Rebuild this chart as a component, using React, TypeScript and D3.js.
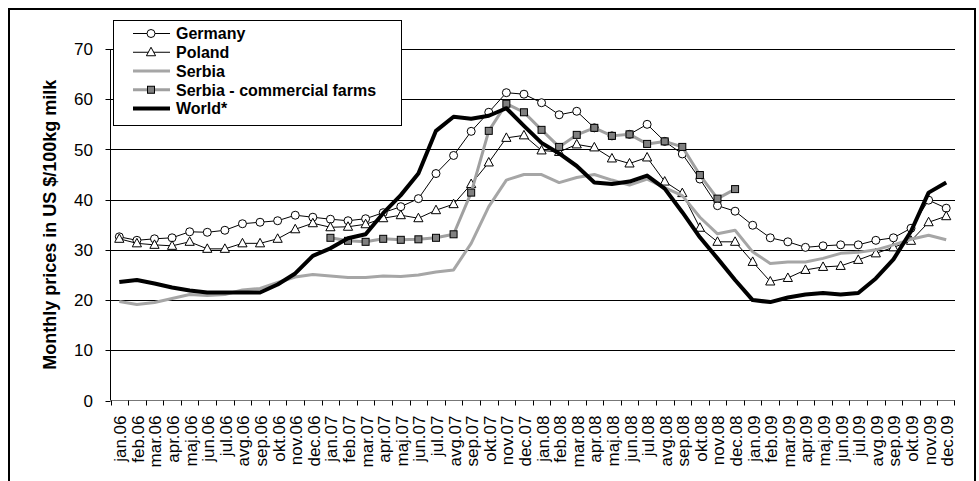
import * as d3 from "d3";

const MONTHS = ["jan", "feb", "mar", "apr", "maj", "jun", "jul", "avg", "sep", "okt", "nov", "dec"];
const YEARS = ["06", "07", "08", "09"];
const categories: string[] = YEARS.flatMap((y) => MONTHS.map((m) => `${m}.${y}`));

const germany = [
  32.6, 31.9, 32.2, 32.4, 33.6, 33.5, 33.9, 35.2, 35.5, 35.8, 36.9, 36.5,
  36.1, 35.8, 36.2, 37.4, 38.6, 40.2, 45.2, 48.8, 53.6, 57.4, 61.3, 61.0,
  59.3, 56.9, 57.6, 54.3, 52.7, 53.0, 55.0, 51.6, 49.1, 44.1, 38.8, 37.7,
  34.9, 32.4, 31.6, 30.5, 30.8, 31.0, 31.0, 31.9, 32.4, 34.3, 39.9, 38.3,
];
const poland = [
  32.2, 31.3, 31.0, 30.8, 31.6, 30.2, 30.2, 31.3, 31.3, 32.2, 34.1, 35.3,
  34.5, 34.6, 35.1, 36.3, 36.9, 36.3, 37.9, 39.1, 43.1, 47.4, 52.3, 52.8,
  49.8, 49.5, 51.0, 50.4, 48.2, 47.2, 48.4, 43.6, 41.3, 34.4, 31.6, 31.6,
  27.6, 23.7, 24.4, 26.0, 26.6, 26.8, 28.0, 29.3, 30.5, 31.8, 35.5, 36.7,
];
const serbia = [
  19.7, 19.1, 19.5, 20.3, 21.1, 20.9, 21.1, 22.0, 22.3, 23.5, 24.6, 25.1,
  24.8, 24.5, 24.5, 24.8, 24.7, 25.0, 25.6, 26.0, 31.3, 38.6, 43.9, 45.0,
  45.0, 43.4, 44.4, 45.0, 43.9, 42.9, 44.1, 42.4, 40.8, 36.5, 33.2, 33.9,
  29.6, 27.3, 27.6, 27.6, 28.3, 29.3, 29.5, 30.0, 31.0, 32.1, 32.9, 32.0,
];
const serbiaCommercial: (number | null)[] = [
  null, null, null, null, null, null, null, null, null, null, null, null,
  32.4, 31.8, 31.6, 32.2, 32.0, 32.1, 32.4, 33.1, 41.4, 53.7, 59.1, 57.4,
  53.9, 50.5, 52.9, 54.3, 52.7, 53.0, 51.1, 51.6, 50.5, 44.9, 40.2, 42.1,
  null, null, null, null, null, null, null, null, null, null, null, null,
];
const world = [
  23.6, 24.0, 23.3, 22.5, 21.9, 21.5, 21.5, 21.5, 21.5, 23.1, 25.3, 28.8,
  30.3, 32.3, 33.1, 37.3, 40.9, 45.2, 53.7, 56.5, 56.1, 56.7, 58.2, 54.7,
  51.3, 49.2, 46.7, 43.4, 43.1, 43.6, 44.8, 42.2, 37.5, 32.5, 28.3, 24.0,
  20.0, 19.6, 20.5, 21.1, 21.4, 21.1, 21.4, 24.3, 28.1, 33.7, 41.4, 43.4,
];
const yTicks = [0, 10, 20, 30, 40, 50, 60, 70];

type Marker = "circle" | "triangle" | "square" | "none";
interface Series {
  name: string;
  values: (number | null)[];
  color: string;
  width: number;
  marker: Marker;
}

const series: Series[] = [
  { name: "Germany", values: germany, color: "#000", width: 1, marker: "circle" },
  { name: "Poland", values: poland, color: "#000", width: 1, marker: "triangle" },
  { name: "Serbia", values: serbia, color: "#a6a6a6", width: 3, marker: "none" },
  { name: "Serbia - commercial farms", values: serbiaCommercial, color: "#a0a0a0", width: 3, marker: "square" },
  { name: "World*", values: world, color: "#000", width: 4, marker: "none" },
];

const W = 979;
const H = 481;
const FONT = "'Liberation Sans', Arial, sans-serif";

function MarkerShape({ kind, x, y }: { kind: Marker; x: number; y: number }) {
  if (kind === "circle")
    return <circle cx={x} cy={y} r={4} fill="#fff" stroke="#000" strokeWidth={1} />;
  if (kind === "triangle")
    return (
      <path
        d={`M${x},${y - 5}L${x + 4.6},${y + 3.5}L${x - 4.6},${y + 3.5}Z`}
        fill="#fff"
        stroke="#000"
        strokeWidth={1}
      />
    );
  if (kind === "square")
    return <rect x={x - 3.5} y={y - 3.5} width={7} height={7} fill="#808080" stroke="#000" strokeWidth={1} />;
  return null;
}

export default function App() {
  const left = 110.5;
  const right = 955;
  const top = 49;
  const bottom = 400.5;

  const x = d3.scaleBand<string>().domain(categories).range([left, right]).paddingInner(0).paddingOuter(0);
  const y = d3.scaleLinear().domain([0, 70]).range([bottom, top]);
  const cx = (c: string) => (x(c) ?? 0) + x.bandwidth() / 2;

  const line = d3
    .line<number | null>()
    .defined((d) => d != null)
    .x((_, i) => cx(categories[i]))
    .y((d) => y(d as number));

  const legendX = 113.5;
  const legendY = 20.5;

  return (
    <svg width={W} height={H} style={{ position: "absolute", left: 0, top: 0, background: "#fff" }} fontFamily={FONT}>
      <rect x={0} y={0} width={W} height={H} fill="#fff" />
      {/* outer frame */}
      <rect x={9} y={9} width={966} height={500} fill="none" stroke="#000" strokeWidth={2} />

      {/* grid */}
      {yTicks.filter((t) => t > 0).map((t) => (
        <line key={t} x1={left} x2={right} y1={Math.round(y(t)) + 0.5} y2={Math.round(y(t)) + 0.5} stroke="#000" strokeWidth={1} />
      ))}

      {/* y axis */}
      <line x1={left} x2={left} y1={top} y2={bottom} stroke="#000" />
      {yTicks.map((t) => (
        <g key={t}>
          <line x1={left - 5} x2={left} y1={Math.round(y(t)) + 0.5} y2={Math.round(y(t)) + 0.5} stroke="#000" />
          <text x={93} y={y(t)} dy="0.36em" textAnchor="end" fontSize={17} fill="#000">
            {t}
          </text>
        </g>
      ))}
      <text
        transform={`translate(56,${(top + bottom) / 2}) rotate(-90)`}
        textAnchor="middle"
        fontSize={18}
        fontWeight="bold"
        fill="#000"
      >
        Monthly prices in US $/100kg milk
      </text>

      {/* x axis */}
      <line x1={left} x2={right} y1={bottom} y2={bottom} stroke="#777" />
      {categories.map((c) => (
        <line key={c} x1={Math.round(x(c) ?? 0) + 0.5} x2={Math.round(x(c) ?? 0) + 0.5} y1={bottom} y2={bottom + 5} stroke="#000" />
      ))}
      <line x1={right - 0.5} x2={right - 0.5} y1={bottom} y2={bottom + 5} stroke="#000" />
      {categories.map((c) => (
        <text
          key={c}
          transform={`translate(${cx(c) + 7},${bottom + 15}) rotate(-90)`}
          textAnchor="end"
          fontSize={17}
          fill="#000"
        >
          {c}
        </text>
      ))}

      {/* series */}
      {series.map((s) => (
        <g key={s.name}>
          <path d={line(s.values) ?? ""} fill="none" stroke={s.color} strokeWidth={s.width} strokeLinejoin="round" />
          {s.values.map((v, i) =>
            v == null ? null : <MarkerShape key={i} kind={s.marker} x={cx(categories[i])} y={y(v)} />,
          )}
        </g>
      ))}

      {/* legend */}
      <rect x={legendX} y={legendY} width={288} height={105} fill="#fff" stroke="#000" strokeWidth={1} />
      {series.map((s, i) => {
        const ly = 33.5 + i * 18.75;
        return (
          <g key={s.name}>
            <line x1={133} x2={170} y1={ly} y2={ly} stroke={s.color} strokeWidth={s.width} />
            <MarkerShape kind={s.marker} x={151} y={ly} />
            <text x={176} y={ly} dy="0.36em" fontSize={16} fontWeight="bold" fill="#000">
              {s.name}
            </text>
          </g>
        );
      })}
    </svg>
  );
}
